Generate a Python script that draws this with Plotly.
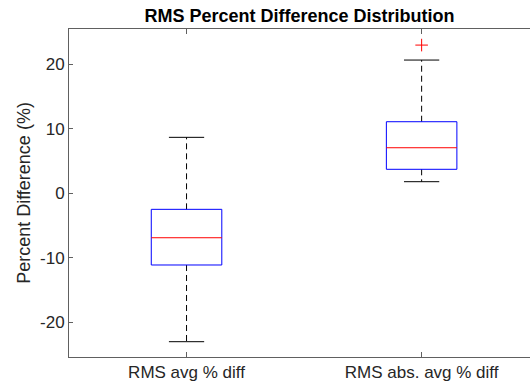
import plotly.graph_objects as go

categories = ["RMS avg % diff", "RMS abs. avg % diff"]
positions = [1, 2]
q1 = [-11.1, 3.72]
median = [-6.88, 7.06]
q3 = [-2.48, 11.09]
lower_whisker = [-22.98, 1.80]
upper_whisker = [8.67, 20.64]
outliers = [[], [22.96]]
y_tick_values = [-20, -10, 0, 10, 20]
y_tick_labels = ["-20", "-10", "0", "10", "20"]

box_half = 0.15
cap_half = 0.075

fig = go.Figure()
for i, p in enumerate(positions):
    # whiskers (dashed)
    fig.add_trace(go.Scatter(
        x=[p, p, None, p, p],
        y=[q3[i], upper_whisker[i], None, q1[i], lower_whisker[i]],
        mode="lines", line=dict(color="#000000", width=1, dash="6px,4px"),
        hoverinfo="skip", showlegend=False))
    # caps
    fig.add_trace(go.Scatter(
        x=[p - cap_half, p + cap_half, None, p - cap_half, p + cap_half],
        y=[upper_whisker[i], upper_whisker[i], None, lower_whisker[i], lower_whisker[i]],
        mode="lines", line=dict(color="#000000", width=1),
        hoverinfo="skip", showlegend=False))
    # box
    fig.add_trace(go.Scatter(
        x=[p - box_half, p + box_half, p + box_half, p - box_half, p - box_half],
        y=[q1[i], q1[i], q3[i], q3[i], q1[i]],
        mode="lines", line=dict(color="#0000ff", width=1),
        hoverinfo="skip", showlegend=False))
    # median
    fig.add_trace(go.Scatter(
        x=[p - box_half, p + box_half],
        y=[median[i], median[i]],
        mode="lines", line=dict(color="#ff0000", width=1),
        hoverinfo="skip", showlegend=False))
    if outliers[i]:
        fig.add_trace(go.Scatter(
            x=[p] * len(outliers[i]), y=outliers[i], mode="markers",
            marker=dict(symbol="cross-thin", size=9, color="#ff0000",
                        line=dict(color="#ff0000", width=1)),
            hoverinfo="skip", showlegend=False))

font_family = "Liberation Sans, Arial, sans-serif"
fig.update_layout(
    width=530, height=385,
    margin=dict(l=69, r=0, t=29, b=28),
    plot_bgcolor="white", paper_bgcolor="white",
    font=dict(family=font_family, size=17, color="#262626"),
    title=dict(text="<b>RMS Percent Difference Distribution</b>",
               x=0.565, xanchor="center", y=0.958, yanchor="middle",
               font=dict(family=font_family, size=18, color="#000000")),
    xaxis=dict(
        range=[0.5, 2.461], tickmode="array", tickvals=positions, ticktext=categories,
        showgrid=False, zeroline=False, showline=True, linecolor="#606060", linewidth=1,
        mirror="ticks", ticks="inside", ticklen=5, tickcolor="#606060",
        automargin=False,
        tickfont=dict(size=17, color="#262626")),
    yaxis=dict(
        range=[-25.35, 25.45], tickmode="array", tickvals=y_tick_values,
        ticktext=y_tick_labels,
        showgrid=False, zeroline=False, showline=True, linecolor="#606060", linewidth=1,
        ticks="inside", ticklen=4, tickcolor="#606060",
        automargin=False,
        tickfont=dict(size=17, color="#262626"),
        title=dict(text="Percent Difference (%)", standoff=4,
                   font=dict(size=18, color="#262626"))),
)

fig.write_html("out.html", config={"displayModeBar": False},
               post_script="document.body.style.margin='0';document.body.style.padding='0';")
